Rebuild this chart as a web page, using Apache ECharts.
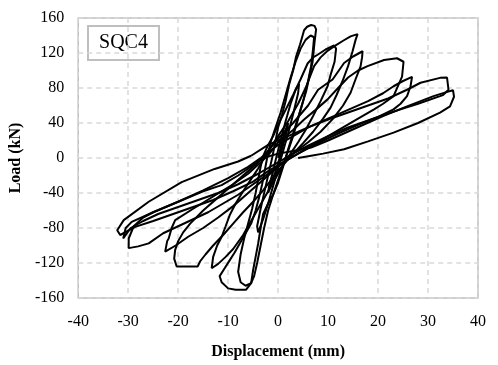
<!DOCTYPE html>
<html>
<head>
<meta charset="utf-8">
<script src="https://cdn.jsdelivr.net/npm/echarts@6/dist/echarts.min.js"></script>
<style>
  html, body { margin: 0; padding: 0; background: #fff; }
  #chart { width: 498px; height: 365px; }
</style>
</head>
<body>
<div id="chart"></div>
<script>
// Specimen SQC4: cyclic load-displacement record, one array per loading cycle [mm, kN]
const cycle1 = [[0,0],[0.5,12],[1.2,28],[2,40],[1.8,32],[1,15],[0.3,0],[-0.5,-15],[-1.3,-30],[-2,-40],[-1.8,-32],[-1,-15],[-0.4,0]];
const cycle2 = [[-0.4,0],[0.5,20],[1.5,42],[2.5,62],[3.5,78],[4.2,85],[4,74],[3,50],[2,28],[1,8],[0,-12],[-1,-32],[-2,-52],[-3,-70],[-4,-85],[-4.2,-78],[-3.5,-58],[-2.6,-35],[-1.8,-15],[-1.2,0]];
const cycle3 = [[-1.2,0],[-0.5,20],[0,35],[0.8,50],[1.5,65],[2.2,84],[3,100],[3.6,116],[4.4,130],[4.9,140],[5.2,146],[5.8,150],[6.6,152],[7.3,151],[7.6,147],
  [7.3,133],[6.9,110],[5.6,76],[4.2,50],[3,28],[2,10],[1,-10],[0,-28],[-1,-42],[-2,-52],[-3,-64],[-3.5,-80],[-4,-98],[-4.5,-113],[-5,-128],[-5.4,-143],[-6.4,-150.5],[-8.5,-150.5],[-10,-149],[-11.3,-142],[-11.7,-135],
  [-10.7,-126],[-9.7,-117],[-8.7,-108],[-7.7,-98],[-6.5,-86],[-5.4,-75],[-4.5,-60],[-3.8,-45],[-3.2,-30],[-2.7,-15],[-2.2,0]];
const cycle4 = [[-2.2,0],[-1.5,18],[-0.5,35],[0.5,52],[1.5,72],[2.5,92],[3.5,110],[4.5,125],[5.5,135],[6.5,140],[7.2,138],[7,125],[6.6,105],[6,88],[5,65],[4,45],[3,25],[2,8],[1,-8],[0,-25],[-1,-42],[-2,-60],[-2.8,-80],[-3.5,-100],[-4.2,-120],[-4.8,-135],[-5.4,-143],[-6.5,-146],[-7.5,-142],[-8,-130],[-7.5,-110],[-6.8,-92],[-6,-75],[-5.2,-58],[-4.5,-40],[-4,-25],[-3.5,-10],[-3,2]];
const cycle5 = [[-3,2],[-2,15],[-1,25],[0,38],[1.5,55],[3,72],[4.5,90],[5.9,108],[7,115],[7.9,118],[9.5,124],[11.2,128.6],[11.6,125],[11.3,110],[10.5,95],[9.9,82],[8.5,65],[7,48],[5.5,32],[4,18],[2.5,5],[1,-8],[-1,-28],[-3,-48],[-5,-68],[-7,-88],[-9,-104],[-10.5,-113],[-12,-121],[-13.3,-126],
  [-13,-113],[-12.2,-100],[-11.3,-90],[-10.5,-78],[-9.7,-65.5],[-8.5,-52],[-7,-38],[-5.5,-25],[-4,-12],[-3,-2]];
const cycle6 = [[-3,-2],[-1.5,12],[0,25],[2,42],[4,62],[5.5,80],[7.2,105],[8.5,115],[9.8,122],[11.2,127.5],[13,134],[14.5,139],[15.9,141.6],[15.5,135],[14.9,122],[14,105],[12.9,88],[11.7,72],[10.5,57.5],[9,45],[7,30],[5,17],[3,5],[1,-8],[-1,-22],[-3,-37],[-5,-50],[-7,-62],[-9,-75],[-11,-88],[-13,-100],[-14.5,-110],[-15.6,-118],[-16.1,-124],[-18,-124],[-20.3,-124],[-20.8,-115],[-20.6,-105],[-20,-95],[-19,-85],[-17.6,-75],[-15,-60],[-12,-45],[-9,-30],[-6,-15],[-4,-5],[-2.5,5]];
const cycle7 = [[-2.5,5],[0,22],[3,40],[6,60],[8,78],[10.9,89.7],[13.2,108.6],[15,116],[16.9,122],[16.8,115],[16.5,104.8],[15.5,90],[14.5,74.6],[13,60],[11,45],[8.5,30],[6,18],[3,5],[0,-10],[-3,-25],[-6,-40],[-9,-55],[-12,-68],[-15,-80],[-18,-90],[-20.5,-100],[-22.6,-107],[-22.2,-95],[-21.9,-92],[-21.3,-80],[-20.6,-71],[-17,-58],[-13,-44],[-9,-30],[-6,-18],[-3.5,-5],[-2,3]];
const cycle8 = [[-2,3],[0,18],[3,32],[5.2,44],[7.5,55],[9.9,67],[12,80],[14,92],[16,100],[17.9,105],[21.2,112],[23.8,114],[25.1,110],[24.8,93],[23.1,70.7],[21,62],[19.2,55.6],[16,45],[13,35],[10,25],[7,15],[4,5],[1,-5],[-2,-18],[-5,-30],[-8,-42],[-11,-52],[-14,-62],[-17,-70],[-20,-78],[-23,-86],[-25.9,-97.6],[-28,-101],[-29.9,-103],[-29.9,-92],[-28.9,-78],[-27,-68],[-25,-62],[-20,-50],[-15,-37],[-10,-23],[-6,-10],[-3.5,0]];
const cycle9 = [[-3.5,0],[0,15],[3,25],[6,35],[10,45],[14,55],[18,65],[21,74],[23.1,82],[25,88],[26.8,92.7],[26.5,82],[25.8,70.7],[24.5,62],[23.1,55.6],[20,47],[16,38],[12,28],[8,17],[4,5],[1,-5],[-2,-15],[-5,-27],[-9,-38],[-13,-48],[-17,-56],[-21,-64],[-25,-72],[-28.6,-78.7],[-31.6,-88],[-32.2,-82.5],[-30.9,-71],[-25.9,-50],[-19.3,-27.6],[-12.7,-12.5],[-8,-4],[-5.4,2.6]];
const cycle10 = [[-5.4,2.6],[-2,15],[2,25],[6,35],[10,44],[14,52],[18,60],[22,68],[25.8,78],[28.5,86],[32.4,91.6],[33.8,92],[34.1,78],[33,72],[32.4,70.7],[28,62],[24.5,55.6],[20,47],[14,35],[10,25],[6,14],[3,5],[0,-5],[-4,-18],[-8,-30],[-12,-40],[-16,-48],[-20,-56],[-24,-64],[-27,-72],[-29.5,-80],[-31,-92],[-30.5,-80],[-29.3,-73],[-25,-62],[-20,-50],[-15,-38],[-11.3,-31],[-8,-20],[-5,-8],[-3,0]];
const cycle11 = [[-3,0],[0,5],[3,8],[6.6,12],[10,20],[16.5,36.6],[21,48],[25.8,59],[31.1,70.7],[33.5,75],[35,77.5],[35.2,70],[34.4,59],[32.4,51.8],[28,40],[23.1,29],[18,19],[13.2,10],[9,5],[6.6,2.6],[4,0]];

const cycles = [cycle1, cycle2, cycle3, cycle4, cycle5, cycle6, cycle7, cycle8, cycle9, cycle10, cycle11];

// Axis ranges and tick steps
const xRange = [-40, 40], xStep = 10;
const yRange = [-160, 160], yStep = 40;
const specimenName = 'SQC4';

const serif = '"Liberation Serif", "Times New Roman", serif';
const gridLine = { show: true, lineStyle: { color: '#d9d9d9', type: [5, 4], width: 1.5 } };

const chart = echarts.init(document.getElementById('chart'), null, { renderer: 'canvas' });
chart.setOption({
  animation: false,
  backgroundColor: '#ffffff',
  grid: { left: 76, right: 20, top: 18, bottom: 65, show: true, borderColor: '#bfbfbf', borderWidth: 1.5 },
  xAxis: {
    type: 'value', min: xRange[0], max: xRange[1], interval: xStep,
    name: 'Displacement (mm)', nameLocation: 'middle', nameGap: 46,
    nameTextStyle: { fontFamily: serif, fontWeight: 'bold', fontSize: 16, color: '#000' },
    axisLine: { show: false }, axisTick: { show: false },
    axisLabel: { fontFamily: serif, fontSize: 16, color: '#000', margin: 16 },
    splitLine: gridLine
  },
  yAxis: {
    type: 'value', min: yRange[0], max: yRange[1], interval: yStep,
    name: 'Load (kN)', nameLocation: 'middle', nameGap: 50, nameRotate: 90,
    nameTextStyle: { fontFamily: serif, fontWeight: 'bold', fontSize: 16, color: '#000' },
    axisLine: { show: false }, axisTick: { show: false },
    axisLabel: { fontFamily: serif, fontSize: 16, color: '#000', margin: 14 },
    splitLine: gridLine
  },
  graphic: [{
    type: 'group', left: 87, top: 25,
    children: [
      { type: 'rect', shape: { x: 0, y: 0, width: 71, height: 34 }, style: { fill: '#fff', stroke: '#bfbfbf', lineWidth: 2 } },
      { type: 'text', x: 35.5, y: 17, style: { text: specimenName, font: '20px ' + serif, fill: '#000', align: 'center', verticalAlign: 'middle' } }
    ]
  }],
  series: cycles.map(c => ({
    type: 'line', data: c, showSymbol: false, symbol: 'none', silent: true,
    lineStyle: { color: '#000', width: 2 }, clip: true
  }))
});
</script>
</body>
</html>
